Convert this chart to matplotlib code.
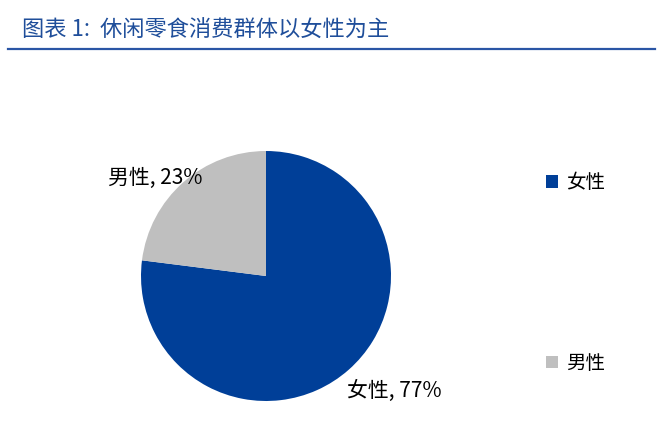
import matplotlib
matplotlib.use("Agg")
import matplotlib.pyplot as plt
from matplotlib.lines import Line2D
from matplotlib.patches import Patch

plt.rcParams['font.family'] = ['Noto Sans CJK SC', 'DejaVu Sans']

# data
categories = ["女性", "男性"]
shares = [77, 23]
colors = ["#003f98", "#bfbfbf"]
title = "图表 1:  休闲零食消费群体以女性为主"

fig = plt.figure(figsize=(6.62, 4.44), dpi=100)

# title + rule
fig.text(22 / 662, 1 - 30 / 444, title, color="#1f4e9a", fontsize=16,
         style="italic", va="center", ha="left")
fig.add_artist(Line2D([8 / 662, 655 / 662], [1 - 49 / 444, 1 - 49 / 444],
                      color="#2a55a5", lw=1.6))

# pie
ax = fig.add_axes([141 / 662, 43 / 444, 250 / 662, 250 / 444])
wedges, _ = ax.pie(shares, colors=colors, startangle=90, counterclock=False,
                   radius=1, wedgeprops=dict(linewidth=0))
ax.set_xlim(-1, 1)
ax.set_ylim(-1, 1)
ax.set_aspect("equal")
ax.axis("off")

# data labels
label_pos = {"女性": (1.03, -0.92), "男性": (-0.89, 0.785)}
for cat, val in zip(categories, shares):
    x, y = label_pos[cat]
    ax.text(x, y, f"{cat}, {val}%", fontsize=15, ha="center", va="center",
            clip_on=False)

# legend
handles = [Patch(facecolor=c, edgecolor="none") for c in colors]
fig.legend(handles, categories, loc="upper left",
           bbox_to_anchor=(528 / 662, 1 - 155 / 444), frameon=False,
           fontsize=14, handlelength=0.62, handleheight=0.62,
           handletextpad=0.45, labelspacing=8.2)

fig.savefig("out.png", dpi=100)
